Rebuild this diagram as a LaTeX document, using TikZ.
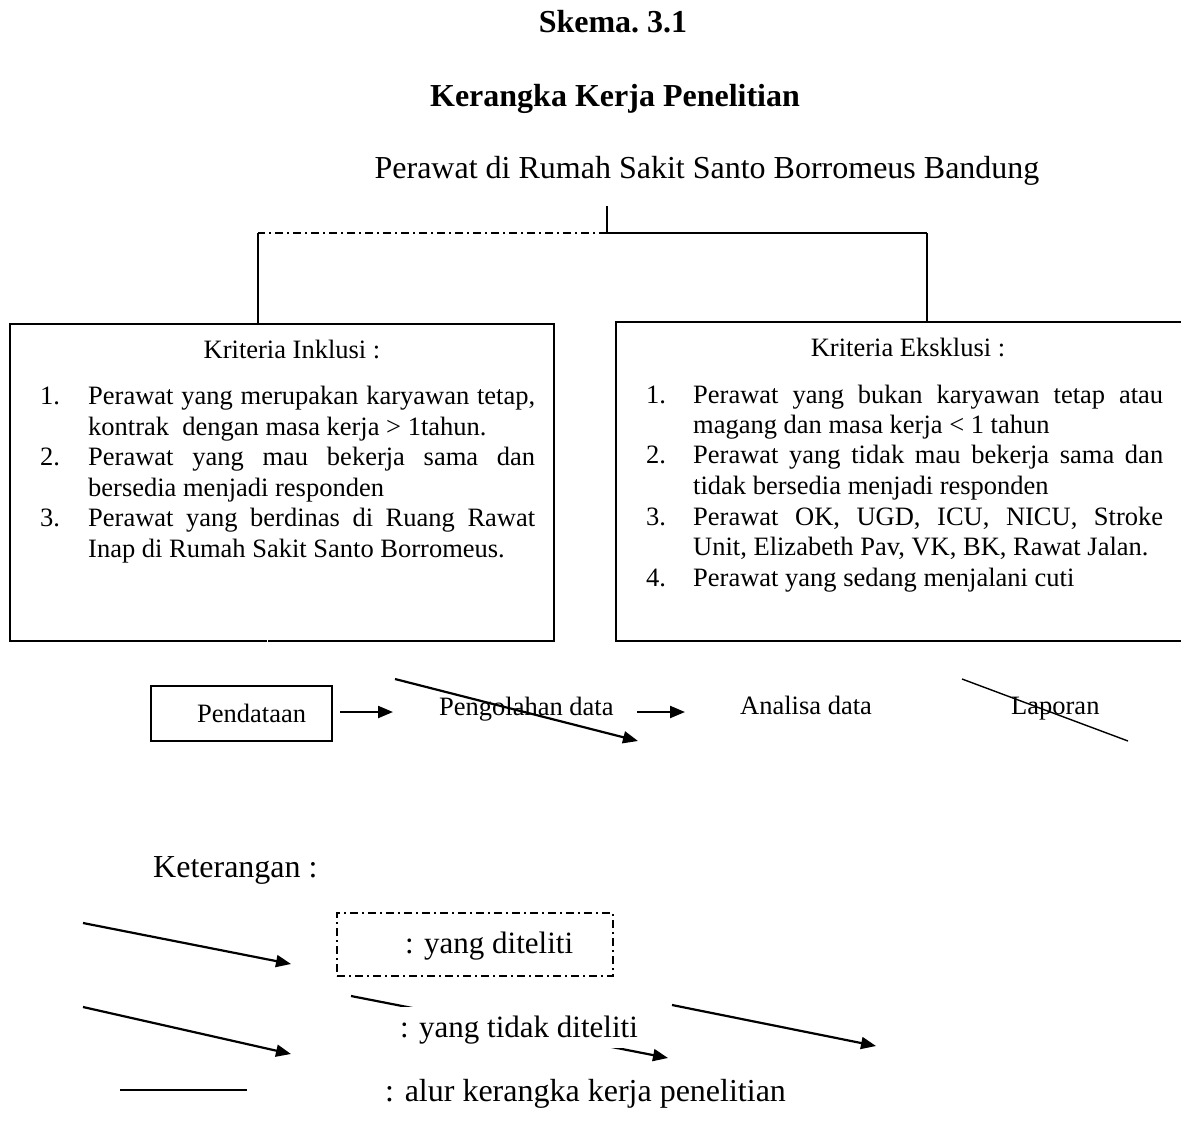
\documentclass[tikz,border=0pt]{standalone}
\usepackage{fontspec}
\setmainfont{Liberation Serif}
\usetikzlibrary{arrows.meta}
\newcommand{\fb}{\fontsize{26.5}{30}\selectfont}
\newcommand{\fl}{\fontsize{32}{36}\selectfont}
\newcommand{\flg}{\fontsize{31}{35}\selectfont}
\begin{document}
\begin{tikzpicture}[x=1pt,y=-1pt,
  txt/.style={inner sep=0pt, anchor=base west, font=\fb},
  bigtxt/.style={inner sep=0pt, anchor=base west, font=\fl},
  legtxt/.style={inner sep=0pt, anchor=base west, font=\flg},
  title/.style={inner sep=0pt, anchor=base, font=\fl\bfseries},
  frame/.style={draw, line width=1.8pt, inner sep=0pt},
  conn/.style={line width=1.6pt},
  arr/.style={line width=2.2pt, -{Triangle[length=15pt,width=12pt]}},
  dashdot/.style={line width=1.6pt, dash pattern=on 8pt off 4pt on 2pt off 4pt}
]
\useasboundingbox (0,0) rectangle (1181,1143);
\fill[white] (0,0) rectangle (1181,1143);

% titles
\node[title] (t1) at (613,32) {Skema.\ 3.1};
\node[title] (t2) at (615,106) {Kerangka Kerja Penelitian};
\node[inner sep=0pt, anchor=base, font=\fl] (hdr) at (707,178) {Perawat di Rumah Sakit Santo Borromeus Bandung};

% hierarchy lines
\coordinate (c0) at (607,206);
\coordinate (c1) at (607,233);
\coordinate (cl) at (258,233);
\coordinate (cr) at (927,233);
\draw[conn] (c0) -- (c1);
\draw[dashdot] (c1) -- (cl);
\draw[conn] (cr) -- (c1);

% boxes
\node[frame, anchor=north west, minimum width=544pt, minimum height=317pt] (inkl) at (9,323) {};
\node[frame, anchor=north west, minimum width=570pt, minimum height=319pt] (eksk) at (615,321) {};
\draw[conn] (cl) -- (cl |- inkl.north);
\draw[conn] (cr) -- (cr |- eksk.north);
\draw[white, line width=1.5pt] (267.5,637) -- (267.5,643);

% inclusion text
\node[txt, anchor=base] (inkT) at (292,358) {Kriteria Inklusi :};
\node[txt] (in1) at (40,404) {1.};
\node[txt] (in2) at (40,465) {2.};
\node[txt] (in3) at (40,526) {3.};
\node[txt] (il1) at (88,404) {\makebox[447pt][s]{Perawat yang merupakan karyawan tetap,}};
\node[txt] (il2) at (88,435) {kontrak\ \ dengan masa kerja > 1tahun.};
\node[txt] (il3) at (88,465) {\makebox[447pt][s]{Perawat yang mau bekerja sama dan}};
\node[txt] (il4) at (88,496) {bersedia menjadi responden};
\node[txt] (il5) at (88,526) {\makebox[447pt][s]{Perawat yang berdinas di Ruang Rawat}};
\node[txt] (il6) at (88,557) {Inap di Rumah Sakit Santo Borromeus.};

% exclusion text
\node[txt, anchor=base] (eksT) at (908,356) {Kriteria Eksklusi :};
\node[txt] (en1) at (646,403) {1.};
\node[txt] (en2) at (646,463) {2.};
\node[txt] (en3) at (646,525) {3.};
\node[txt] (en4) at (646,586) {4.};
\node[txt] (el1) at (693,403) {\makebox[470pt][s]{Perawat yang bukan karyawan tetap atau}};
\node[txt] (el2) at (693,433) {magang dan masa kerja < 1 tahun};
\node[txt] (el3) at (693,463) {\makebox[470pt][s]{Perawat yang tidak mau bekerja sama dan}};
\node[txt] (el4) at (693,494) {tidak bersedia menjadi responden};
\node[txt] (el5) at (693,525) {\makebox[470pt][s]{Perawat OK, UGD, ICU, NICU, Stroke}};
\node[txt] (el6) at (693,555) {Unit, Elizabeth Pav, VK, BK, Rawat Jalan.};
\node[txt] (el7) at (693,586) {Perawat yang sedang menjalani cuti};

% process row
\node[frame, minimum width=181pt, minimum height=55pt] (pend) at (241.5,713.5) {};
\node[txt] (pendT) at (197,722) {Pendataan};
\node[txt] (olah) at (439,715) {Pengolahan data};
\node[txt] (anal) at (740,714) {Analisa data};
\node[txt] (lap) at (1011,714) {Laporan};
\coordinate (p1s) at (340,712);
\coordinate (p1e) at (393,712);
\coordinate (p2s) at (637,712);
\coordinate (p2e) at (685,712);
\coordinate (d1s) at (395,679);
\coordinate (d1e) at (638,741);
\coordinate (d2s) at (962,679);
\coordinate (d2e) at (1128,741);
\draw[arr] (p1s) -- (p1e);
\draw[arr] (p2s) -- (p2e);
\draw[arr] (d1s) -- (d1e);
\draw[conn, line width=1.4pt] (d2s) -- (d2e);

% legend
\node[bigtxt] (ket) at (153,877) {Keterangan :};
\coordinate (l1s) at (83,923);
\coordinate (l1e) at (291,964);
\coordinate (l2s) at (83,1007);
\coordinate (l2e) at (291,1054);
\coordinate (l3s) at (351,996);
\coordinate (l3e) at (668,1058);
\coordinate (l4s) at (672,1005);
\coordinate (l4e) at (876,1046);
\draw[arr] (l1s) -- (l1e);
\draw[arr] (l2s) -- (l2e);
\draw[arr] (l3s) -- (l3e);
\draw[arr] (l4s) -- (l4e);
\node[draw, dashdot, minimum width=276pt, minimum height=63pt, inner sep=0pt] (legbox) at (475,944.5) {};
\node[legtxt] (leg1) at (405,953) {: yang diteliti};
\node[legtxt, fill=white, inner xsep=3pt, inner ysep=3pt, text height=27pt, text depth=8pt] (leg2) at (397,1037) {: yang tidak diteliti};
\coordinate (l5s) at (120,1090);
\coordinate (l5e) at (247,1090);
\draw[conn] (l5s) -- (l5e);
\node[bigtxt] (leg3) at (385,1101) {: alur kerangka kerja penelitian};
\end{tikzpicture}
\end{document}
